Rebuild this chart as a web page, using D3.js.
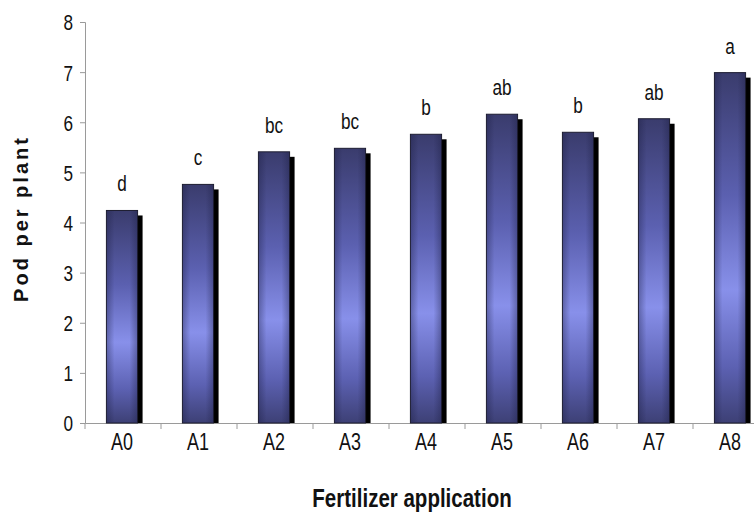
<!DOCTYPE html>
<html>
<head>
<meta charset="utf-8">
<script src="https://cdn.jsdelivr.net/npm/d3@7"></script>
<style>
  html, body { margin: 0; padding: 0; background: #fff; }
  svg { display: block; }
  text { font-family: "Liberation Sans", Arial, sans-serif; fill: #111; }
</style>
</head>
<body>
<svg id="chart" width="754" height="519"></svg>
<script>
// Pods per plant under each fertilizer treatment, with significance letters
const treatments = ["A0", "A1", "A2", "A3", "A4", "A5", "A6", "A7", "A8"];
const podsPerPlant = [4.24, 4.76, 5.41, 5.48, 5.76, 6.16, 5.80, 6.07, 6.99];
const groupLetters = ["d", "c", "bc", "bc", "b", "ab", "b", "ab", "a"];
const yTicks = [0, 1, 2, 3, 4, 5, 6, 7, 8];

const svg = d3.select("#chart");
const plotLeft = 85, plotRight = 769, plotTop = 22, plotBottom = 423;
const narrow = 0.78; // horizontal squeeze to get a condensed face

const x = d3.scaleBand().domain(treatments).range([plotLeft, plotRight]).paddingInner(0).paddingOuter(0);
const y = d3.scaleLinear().domain([0, 8]).range([plotBottom, plotTop]);

// Bar fill: dark at the ends, light towards the lower middle
const defs = svg.append("defs");
const gv = defs.append("linearGradient").attr("id", "barFill")
  .attr("x1", 0).attr("y1", 0).attr("x2", 0).attr("y2", 1);
[[0, "#3a3c6d"], [0.35, "#5b60b0"], [0.62, "#8890ea"], [0.84, "#5c61b2"], [1, "#3d4075"]]
  .forEach(([o, c]) => gv.append("stop").attr("offset", o).attr("stop-color", c));
const gh = defs.append("linearGradient").attr("id", "barEdge")
  .attr("x1", 0).attr("y1", 0).attr("x2", 1).attr("y2", 0);
[[0, "#1a1c40", 0.35], [0.25, "#1a1c40", 0], [0.75, "#1a1c40", 0], [1, "#1a1c40", 0.35]]
  .forEach(([o, c, a]) => gh.append("stop").attr("offset", o).attr("stop-color", c).attr("stop-opacity", a));

const barW = x.bandwidth() * 0.41;
const barX = d => x(d) + x.bandwidth() / 2 - barW / 2 - 1;

// Axes
const axisColor = "#9a9a9a";
const yAxis = svg.append("g").attr("transform", `translate(${plotLeft},0)`)
  .call(d3.axisLeft(y).tickValues(yTicks).tickSize(5).tickPadding(0).tickFormat(d3.format("d")));
yAxis.select(".domain").attr("stroke", axisColor);
yAxis.selectAll(".tick line").attr("stroke", axisColor);
yAxis.selectAll(".tick text")
  .attr("x", -12 / narrow).attr("dy", "0.36em")
  .attr("transform", `scale(${narrow},1)`)
  .attr("font-size", 22).style("fill", "#111");

const xAxis = svg.append("g").attr("transform", `translate(0,${plotBottom})`)
  .call(d3.axisBottom(x).tickSize(0).tickPadding(0));
xAxis.select(".domain").attr("stroke", axisColor);
xAxis.selectAll(".tick text")
  .attr("y", 27).attr("dy", 0)
  .attr("transform", `translate(-1,0) scale(${narrow},1)`)
  .attr("font-size", 23).style("fill", "#111");
// Category separators below the axis
svg.append("g").selectAll("line").data(treatments).join("line")
  .attr("x1", d => x(d)).attr("x2", d => x(d))
  .attr("y1", plotBottom).attr("y2", plotBottom + 6)
  .attr("stroke", axisColor);

// Shadows
svg.append("g").selectAll("rect").data(treatments).join("rect")
  .attr("x", d => barX(d) + 5)
  .attr("y", (d, i) => y(podsPerPlant[i]) + 5)
  .attr("width", barW)
  .attr("height", (d, i) => plotBottom - y(podsPerPlant[i]) - 5)
  .attr("fill", "#000");

// Bars
const bars = svg.append("g");
bars.selectAll("rect.main").data(treatments).join("rect").attr("class", "main")
  .attr("x", d => barX(d))
  .attr("y", (d, i) => y(podsPerPlant[i]))
  .attr("width", barW)
  .attr("height", (d, i) => plotBottom - y(podsPerPlant[i]))
  .attr("fill", "url(#barFill)")
  .attr("stroke", "#1c1c30").attr("stroke-width", 1);
bars.selectAll("rect.edge").data(treatments).join("rect").attr("class", "edge")
  .attr("x", d => barX(d) + 0.5)
  .attr("y", (d, i) => y(podsPerPlant[i]) + 0.5)
  .attr("width", barW - 1)
  .attr("height", (d, i) => plotBottom - y(podsPerPlant[i]) - 1)
  .attr("fill", "url(#barEdge)");

// Significance letters
svg.append("g").selectAll("text").data(treatments).join("text")
  .attr("transform", (d, i) =>
    `translate(${barX(d) + barW / 2},${y(podsPerPlant[i]) - 19}) scale(${narrow},1)`)
  .attr("text-anchor", "middle")
  .attr("font-size", 22)
  .text((d, i) => groupLetters[i]);

// Axis titles
svg.append("text")
  .attr("transform", `translate(28,${(plotTop + plotBottom) / 2 - 4}) rotate(-90)`)
  .attr("text-anchor", "middle")
  .attr("font-weight", "bold")
  .attr("font-size", 20)
  .attr("letter-spacing", 3)
  .text("Pod per plant");

svg.append("text")
  .attr("transform", `translate(412,507) scale(0.82,1)`)
  .attr("text-anchor", "middle")
  .attr("font-weight", "bold")
  .attr("font-size", 25)
  .text("Fertilizer application");
</script>
</body>
</html>
